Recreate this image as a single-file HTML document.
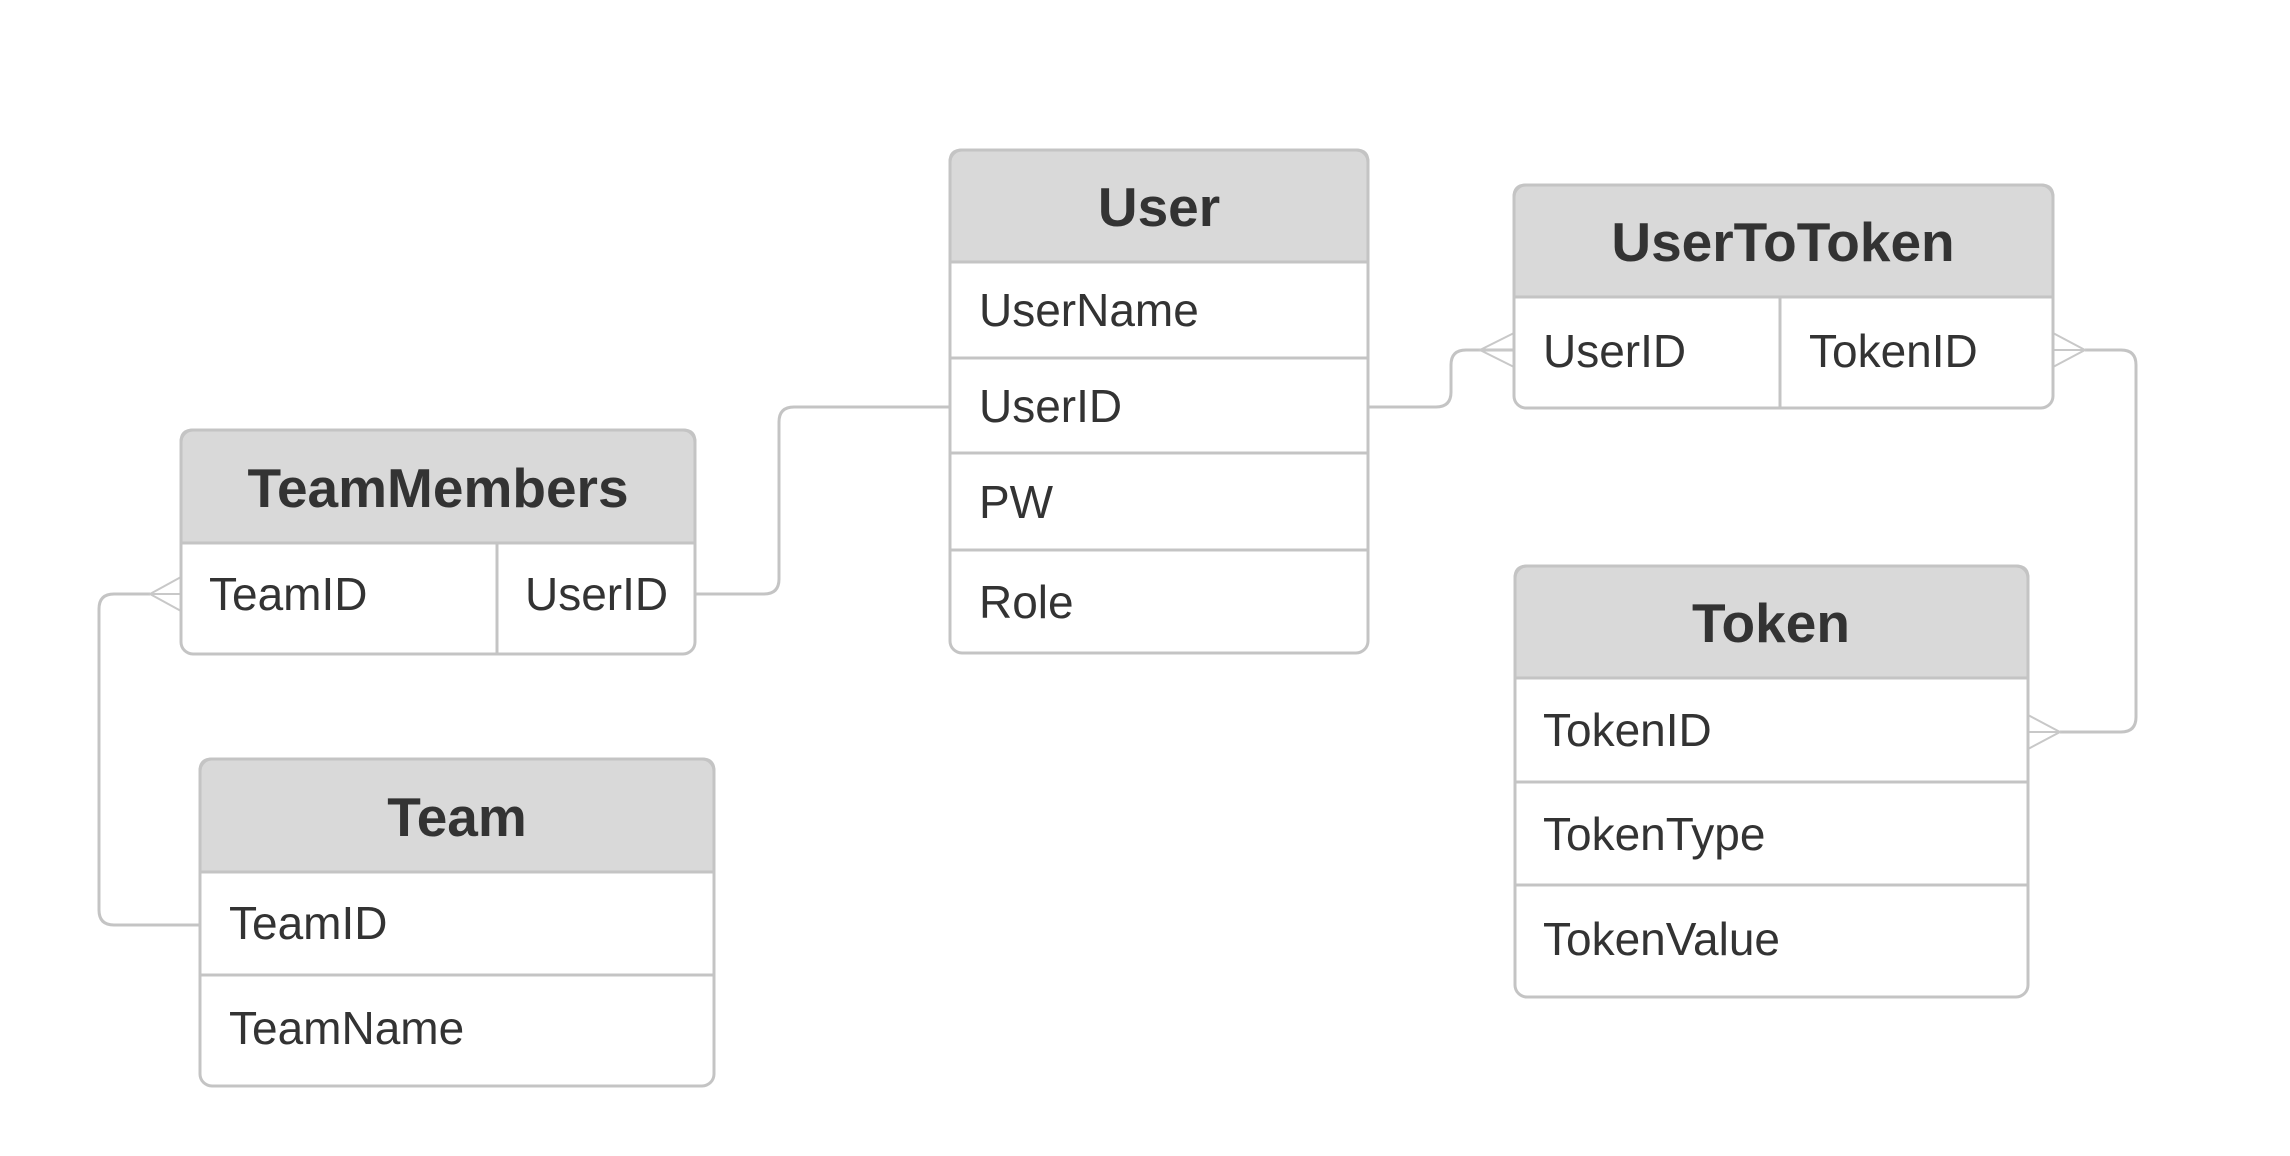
<!DOCTYPE html>
<html><head><meta charset="utf-8"><style>
html,body{margin:0;padding:0;background:#fff;}
svg{display:block;}
text{font-family:"Liberation Sans",Arial,sans-serif;fill:#333;}
.h{font-weight:bold;font-size:55px;text-anchor:middle;}
.f{font-size:46px;}
</style></head><body>
<svg width="2290" height="1156" viewBox="0 0 2290 1156" xmlns="http://www.w3.org/2000/svg">
<g fill="none" stroke="#c4c4c4" stroke-width="3">
<path d="M695 594 H764 Q779 594 779 579 V422 Q779 407 794 407 H950"/>
<path d="M1368 407 H1436 Q1451 407 1451 392 V365 Q1451 350 1466 350 H1514"/>
<path d="M2085 350 H2121 Q2136 350 2136 365 V717 Q2136 732 2121 732 H2060"/>
<path d="M150 594 H114 Q99 594 99 609 V910 Q99 925 114 925 H200"/>
</g>
<g fill="none" stroke="#c8c8c8" stroke-width="2">
<path d="M1514 333 L1480 350 L1514 367 M1480 350 H1514"/>
<path d="M2053 333 L2085 350 L2053 367 M2053 350 H2085"/>
<path d="M2028 715 L2060 732 L2028 749 M2028 732 H2060"/>
<path d="M181 577 L150 594 L181 611 M150 594 H181"/>
</g>
<g stroke="#c4c4c4" stroke-width="3">
<path d="M962 150 H1356 Q1368 150 1368 162 V262 H950 V162 Q950 150 962 150 Z" fill="#d9d9d9"/>
<rect x="950" y="150" width="418" height="503" rx="12" fill="none"/>
<path d="M950 358 H1368 M950 453 H1368 M950 550 H1368"/>
<path d="M1526 185 H2041 Q2053 185 2053 197 V297 H1514 V197 Q1514 185 1526 185 Z" fill="#d9d9d9"/>
<rect x="1514" y="185" width="539" height="223" rx="12" fill="none"/>
<path d="M1780 297 V408"/>
<path d="M1527 566 H2016 Q2028 566 2028 578 V678 H1515 V578 Q1515 566 1527 566 Z" fill="#d9d9d9"/>
<rect x="1515" y="566" width="513" height="431" rx="12" fill="none"/>
<path d="M1515 782 H2028 M1515 885 H2028"/>
<path d="M193 430 H683 Q695 430 695 442 V543 H181 V442 Q181 430 193 430 Z" fill="#d9d9d9"/>
<rect x="181" y="430" width="514" height="224" rx="12" fill="none"/>
<path d="M497 543 V654"/>
<path d="M212 759 H702 Q714 759 714 771 V872 H200 V771 Q200 759 212 759 Z" fill="#d9d9d9"/>
<rect x="200" y="759" width="514" height="327" rx="12" fill="none"/>
<path d="M200 975 H714"/>
</g>
<text class="h" x="1159" y="226">User</text>
<text class="f" x="979" y="326">UserName</text>
<text class="f" x="979" y="422">UserID</text>
<text class="f" x="979" y="518">PW</text>
<text class="f" x="979" y="618">Role</text>
<text class="h" x="1783" y="261">UserToToken</text>
<text class="f" x="1543" y="367">UserID</text>
<text class="f" x="1809" y="367">TokenID</text>
<text class="h" x="1771" y="642">Token</text>
<text class="f" x="1543" y="746">TokenID</text>
<text class="f" x="1543" y="850">TokenType</text>
<text class="f" x="1543" y="955">TokenValue</text>
<text class="h" x="438" y="507">TeamMembers</text>
<text class="f" x="209" y="610">TeamID</text>
<text class="f" x="525" y="610">UserID</text>
<text class="h" x="457" y="836">Team</text>
<text class="f" x="229" y="939">TeamID</text>
<text class="f" x="229" y="1044">TeamName</text>
</svg>
</body></html>
